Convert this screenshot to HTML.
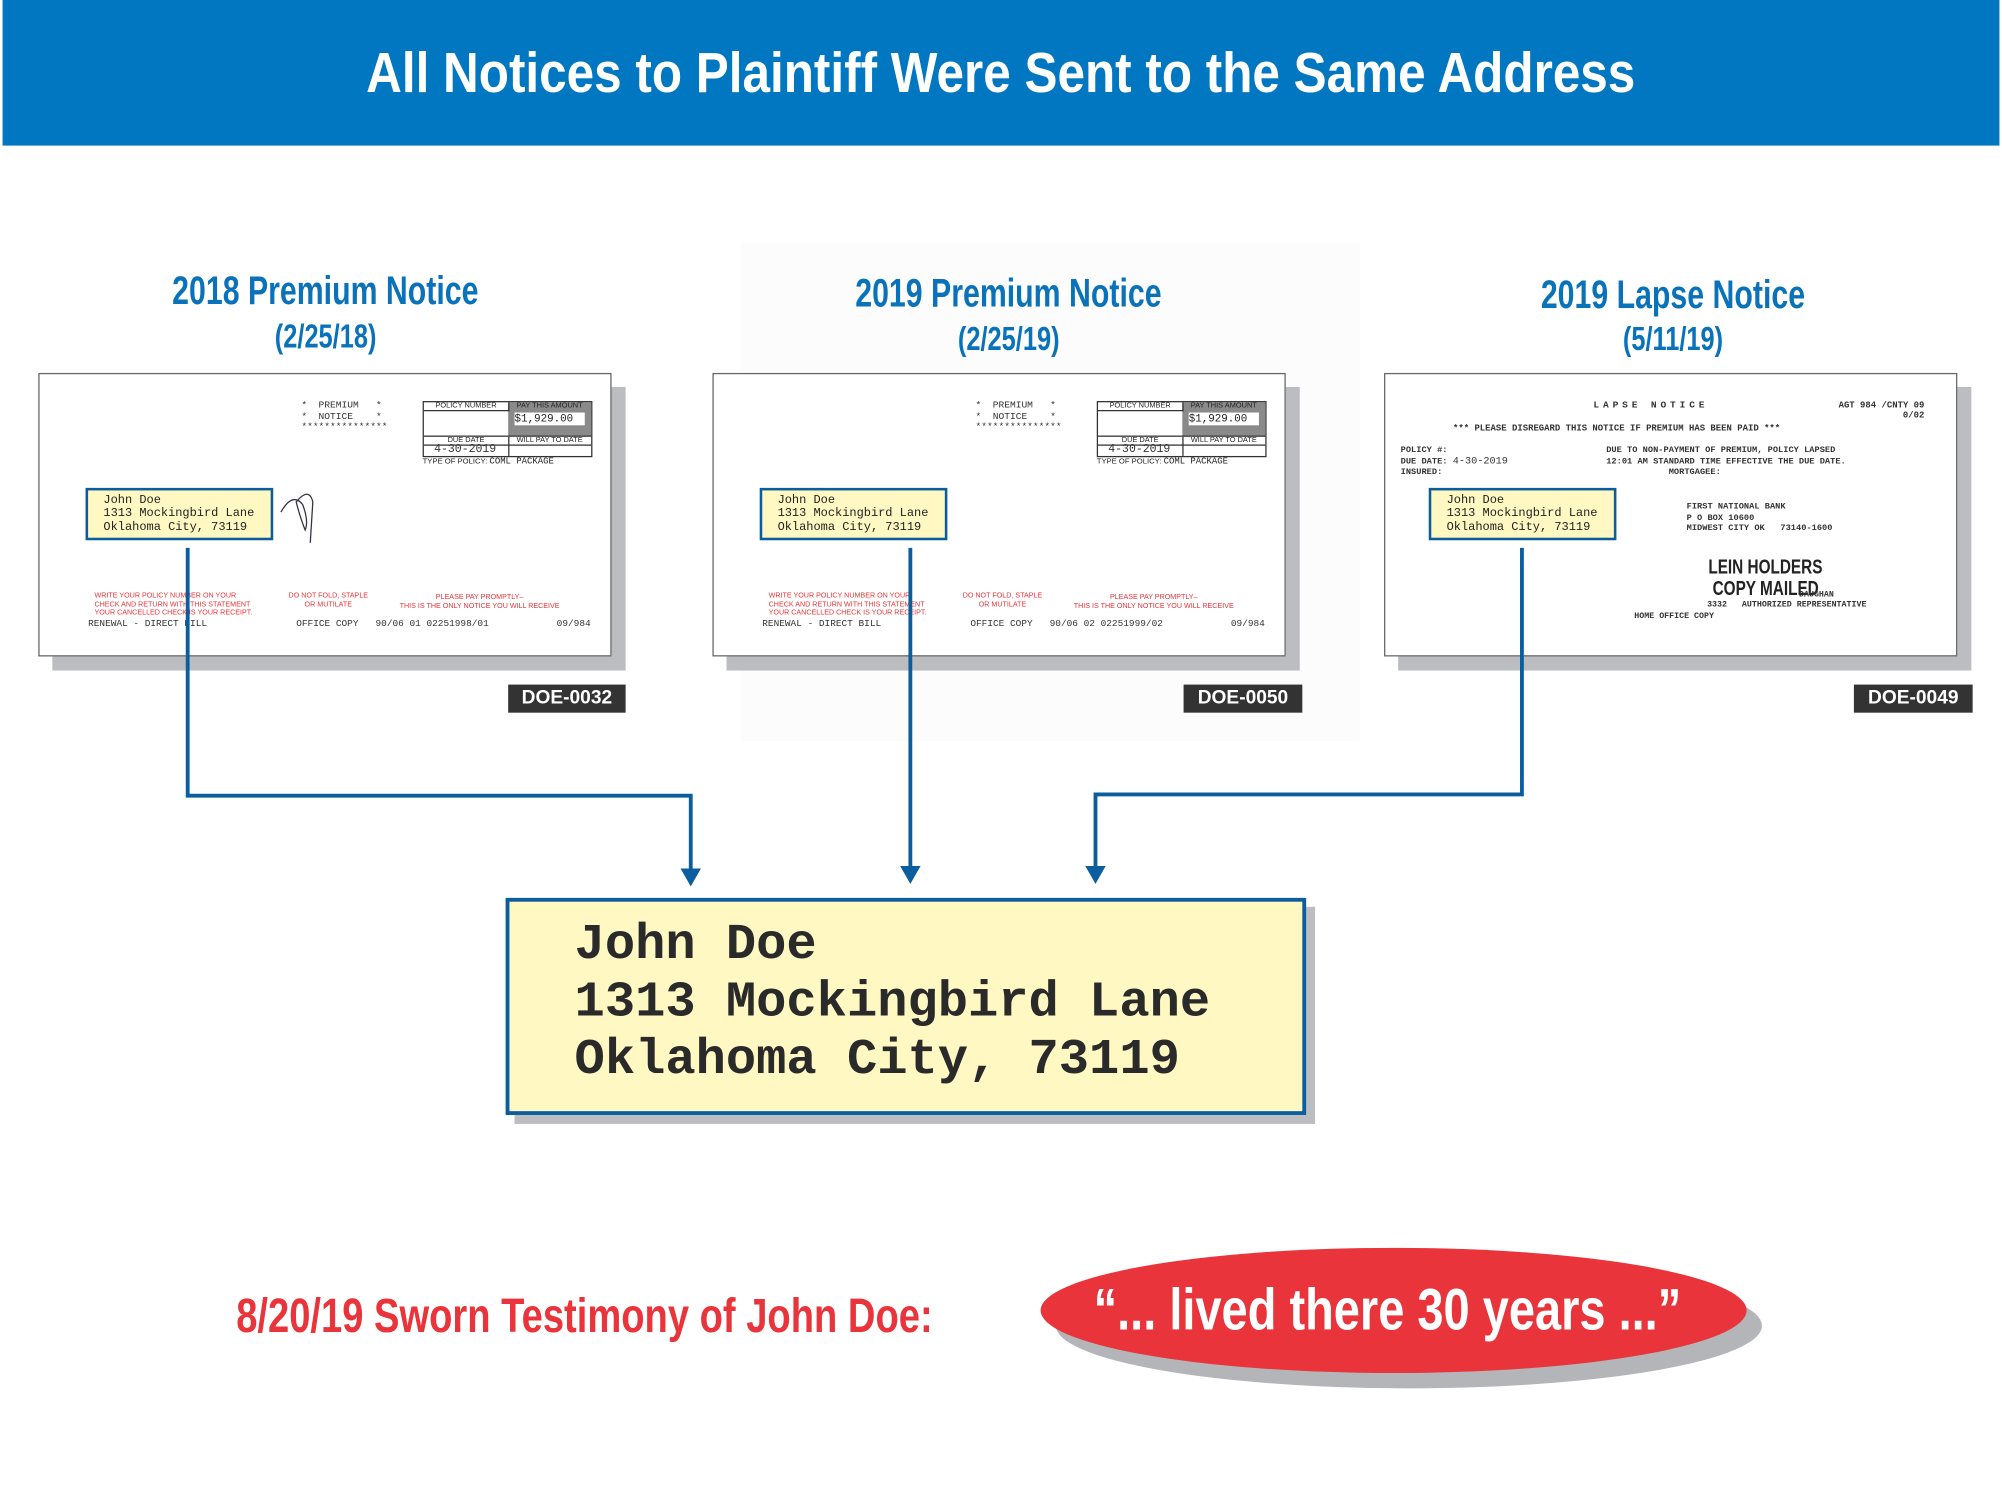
<!DOCTYPE html>
<html><head><meta charset="utf-8">
<style>
html,body{margin:0;padding:0;background:#fff;}
body{width:2002px;height:1502px;overflow:hidden;position:relative;}
#w{position:absolute;left:0;top:0;width:1568px;height:1176px;transform:scale(1.27679,1.2772);transform-origin:0 0;font-family:"Liberation Sans",sans-serif;}
.a{position:absolute;}
.cond{display:inline-block;white-space:nowrap;font-weight:bold;}
.ttl{position:absolute;width:400px;text-align:center;color:#0a72b9;font-weight:bold;}
.ttl .cond{transform:scaleX(0.765);}
.doc{position:absolute;width:449px;height:222px;}
.doc .sh{position:absolute;left:11px;top:11px;width:449px;height:222px;background:#bcbdc0;}
.doc .pg{position:absolute;left:0;top:0;width:447px;height:220px;background:#fff;border:1px solid #666;overflow:hidden;}
.m{font-family:"Liberation Mono",monospace;white-space:nowrap;position:absolute;color:#333;}
.r{position:absolute;color:#e8343a;font-size:5.6px;line-height:6.5px;white-space:nowrap;}
.addr{position:absolute;width:143px;height:37px;background:#fff8c2;border:2px solid #0b5d9e;box-sizing:content-box;}
.addr div{font-family:"Liberation Mono",monospace;font-size:9.4px;line-height:10.4px;color:#222;margin:3px 0 0 12px;white-space:nowrap;}
.doe{position:absolute;height:22px;background:#333;color:#fff;font-weight:bold;font-size:15px;line-height:22px;text-align:center;}
.tbl{position:absolute;left:300px;top:21px;width:131px;height:42px;border:1.5px solid #333;font-size:5.8px;color:#222;}
</style></head><body><div id="w">
<div class="a" style="left:2px;top:0;width:1564px;height:114px;background:#0077c0;"></div>
<div class="a" style="left:2px;top:30px;width:1564px;text-align:center;color:#fff;font-size:44px;line-height:56px;"><span class="cond" style="transform:scaleX(0.88);">All Notices to Plaintiff Were Sent to the Same Address</span></div>

<div class="a" style="left:580px;top:190px;width:485px;height:390px;background:#fcfcfc;"></div>

<div class="ttl" style="left:55px;top:210px;font-size:31px;line-height:36px;"><span class="cond">2018 Premium Notice</span></div>
<div class="ttl" style="left:55px;top:247px;font-size:26px;line-height:32px;"><span class="cond">(2/25/18)</span></div>
<div class="ttl" style="left:590px;top:212px;font-size:31px;line-height:36px;"><span class="cond">2019 Premium Notice</span></div>
<div class="ttl" style="left:590px;top:249px;font-size:26px;line-height:32px;"><span class="cond">(2/25/19)</span></div>
<div class="ttl" style="left:1110px;top:213px;font-size:31px;line-height:36px;"><span class="cond">2019 Lapse Notice</span></div>
<div class="ttl" style="left:1110px;top:249px;font-size:26px;line-height:32px;"><span class="cond">(5/11/19)</span></div>

<!-- doc 1 -->
<div class="doc" style="left:30px;top:292px;"><div class="sh"></div><div class="pg">
<div class="m" style="left:205px;top:21px;font-size:7.5px;line-height:8.5px;">*&nbsp;&nbsp;PREMIUM&nbsp;&nbsp;&nbsp;*<br>*&nbsp;&nbsp;NOTICE&nbsp;&nbsp;&nbsp;&nbsp;*<br>***************</div>
<div class="tbl"><div class="a" style="left:66px;top:0;width:65px;height:26px;background:#8a8a8a;"></div>
<div class="a" style="left:0;top:0;width:66px;text-align:center;border-bottom:1px solid #333;border-right:1px solid #333;">POLICY NUMBER</div>
<div class="a" style="left:66px;top:0;width:65px;text-align:center;">PAY THIS AMOUNT</div>
<div class="a" style="left:71px;top:8px;width:55px;height:10px;background:#fff;font-family:'Liberation Mono',monospace;font-size:8.5px;line-height:10px;">$1,929.00</div>
<div class="a" style="left:0;top:26px;width:131px;border-top:1px solid #333;"></div>
<div class="a" style="left:0;top:27px;width:66px;text-align:center;border-right:1px solid #333;height:15px;">DUE DATE</div>
<div class="a" style="left:66px;top:27px;width:65px;text-align:center;">WILL PAY TO DATE</div>
<div class="a" style="left:0;top:33px;width:131px;border-top:1px solid #333;"></div>
<div class="m" style="left:8px;top:33px;font-size:9px;line-height:9px;">4-30-2019</div></div>
<div class="a" style="left:300px;top:65px;font-size:6px;color:#222;white-space:nowrap;">TYPE OF POLICY: <span style="font-family:'Liberation Mono',monospace;font-size:7px;">COML PACKAGE</span></div>
<div class="addr" style="left:36px;top:89px;"><div>John Doe<br>1313 Mockingbird Lane<br>Oklahoma City, 73119</div></div>
<svg class="a" style="left:186px;top:90px" width="40" height="45"><path d="M3 18 Q12 2 20 12 Q25 25 22 32 Q18 22 15 10 Q25 -2 28 10 L26 42" stroke="#334" fill="none" stroke-width="1"/></svg>
<div class="r" style="left:43px;top:171px;">WRITE YOUR POLICY NUMBER ON YOUR<br>CHECK AND RETURN WITH THIS STATEMENT<br>YOUR CANCELLED CHECK IS YOUR RECEIPT.</div>
<div class="r" style="left:195px;top:171px;text-align:center;">DO NOT FOLD, STAPLE<br>OR MUTILATE</div>
<div class="r" style="left:282px;top:172px;text-align:center;">PLEASE PAY PROMPTLY–<br>THIS IS THE ONLY NOTICE YOU WILL RECEIVE</div>
<div class="m" style="left:38px;top:192px;font-size:7.4px;">RENEWAL - DIRECT BILL</div>
<div class="m" style="left:201px;top:192px;font-size:7.4px;">OFFICE COPY&nbsp;&nbsp;&nbsp;90/06 01 02251998/01</div>
<div class="m" style="left:405px;top:192px;font-size:7.4px;">09/984</div>
</div></div>

<!-- doc 2 -->
<div class="doc" style="left:558px;top:292px;"><div class="sh"></div><div class="pg">
<div class="m" style="left:205px;top:21px;font-size:7.5px;line-height:8.5px;">*&nbsp;&nbsp;PREMIUM&nbsp;&nbsp;&nbsp;*<br>*&nbsp;&nbsp;NOTICE&nbsp;&nbsp;&nbsp;&nbsp;*<br>***************</div>
<div class="tbl"><div class="a" style="left:66px;top:0;width:65px;height:26px;background:#8a8a8a;"></div>
<div class="a" style="left:0;top:0;width:66px;text-align:center;border-bottom:1px solid #333;border-right:1px solid #333;">POLICY NUMBER</div>
<div class="a" style="left:66px;top:0;width:65px;text-align:center;">PAY THIS AMOUNT</div>
<div class="a" style="left:71px;top:8px;width:55px;height:10px;background:#fff;font-family:'Liberation Mono',monospace;font-size:8.5px;line-height:10px;">$1,929.00</div>
<div class="a" style="left:0;top:26px;width:131px;border-top:1px solid #333;"></div>
<div class="a" style="left:0;top:27px;width:66px;text-align:center;border-right:1px solid #333;height:15px;">DUE DATE</div>
<div class="a" style="left:66px;top:27px;width:65px;text-align:center;">WILL PAY TO DATE</div>
<div class="a" style="left:0;top:33px;width:131px;border-top:1px solid #333;"></div>
<div class="m" style="left:8px;top:33px;font-size:9px;line-height:9px;">4-30-2019</div></div>
<div class="a" style="left:300px;top:65px;font-size:6px;color:#222;white-space:nowrap;">TYPE OF POLICY: <span style="font-family:'Liberation Mono',monospace;font-size:7px;">COML PACKAGE</span></div>
<div class="addr" style="left:36px;top:89px;"><div>John Doe<br>1313 Mockingbird Lane<br>Oklahoma City, 73119</div></div>
<div class="r" style="left:43px;top:171px;">WRITE YOUR POLICY NUMBER ON YOUR<br>CHECK AND RETURN WITH THIS STATEMENT<br>YOUR CANCELLED CHECK IS YOUR RECEIPT.</div>
<div class="r" style="left:195px;top:171px;text-align:center;">DO NOT FOLD, STAPLE<br>OR MUTILATE</div>
<div class="r" style="left:282px;top:172px;text-align:center;">PLEASE PAY PROMPTLY–<br>THIS IS THE ONLY NOTICE YOU WILL RECEIVE</div>
<div class="m" style="left:38px;top:192px;font-size:7.4px;">RENEWAL - DIRECT BILL</div>
<div class="m" style="left:201px;top:192px;font-size:7.4px;">OFFICE COPY&nbsp;&nbsp;&nbsp;90/06 02 02251999/02</div>
<div class="m" style="left:405px;top:192px;font-size:7.4px;">09/984</div>
</div></div>

<!-- doc 3 -->
<div class="doc" style="left:1084px;top:292px;"><div class="sh"></div><div class="pg">
<div class="m" style="left:163px;top:21px;font-size:7.5px;font-weight:bold;letter-spacing:3px;">LAPSE NOTICE</div>
<div class="m" style="left:355px;top:21px;font-size:7px;font-weight:bold;text-align:right;line-height:8px;">AGT 984 /CNTY 09<br>0/02</div>
<div class="m" style="left:53px;top:39px;font-size:7px;font-weight:bold;">*** PLEASE DISREGARD THIS NOTICE IF PREMIUM HAS BEEN PAID ***</div>
<div class="m" style="left:12px;top:56px;font-size:6.8px;font-weight:bold;line-height:8.5px;">POLICY #:<br>DUE DATE: <span style="font-weight:normal;font-size:8px;">4-30-2019</span><br>INSURED:</div>
<div class="m" style="left:173px;top:56px;font-size:6.8px;font-weight:bold;line-height:8.5px;">DUE TO NON-PAYMENT OF PREMIUM, POLICY LAPSED<br>12:01 AM STANDARD TIME EFFECTIVE THE DUE DATE.<br>&nbsp;&nbsp;&nbsp;&nbsp;&nbsp;&nbsp;&nbsp;&nbsp;&nbsp;&nbsp;&nbsp;&nbsp;MORTGAGEE:</div>
<div class="addr" style="left:34px;top:89px;"><div>John Doe<br>1313 Mockingbird Lane<br>Oklahoma City, 73119</div></div>
<div class="m" style="left:236px;top:100px;font-size:6.8px;font-weight:bold;line-height:8.5px;">FIRST NATIONAL BANK<br>P O BOX 10600<br>MIDWEST CITY OK&nbsp;&nbsp;&nbsp;73140-1600</div>
<div class="a" style="left:253px;top:143px;font-size:16px;font-weight:bold;color:#222;line-height:17px;transform:scaleX(0.75);transform-origin:0 0;white-space:nowrap;">LEIN HOLDERS<br>&nbsp;COPY MAILED</div>
<div class="m" style="left:324px;top:169px;font-size:6.5px;font-weight:bold;">DAUGHAN</div>
<div class="m" style="left:252px;top:177px;font-size:6.5px;font-weight:bold;">3332&nbsp;&nbsp;&nbsp;AUTHORIZED REPRESENTATIVE</div>
<div class="m" style="left:195px;top:186px;font-size:6.5px;font-weight:bold;">HOME OFFICE COPY</div>
</div></div>

<div class="doe" style="left:398px;top:536px;width:92px;">DOE-0032</div>
<div class="doe" style="left:927px;top:536px;width:93px;">DOE-0050</div>
<div class="doe" style="left:1452px;top:536px;width:93px;">DOE-0049</div>

<svg class="a" style="left:0;top:0" width="1568" height="1176">
<g stroke="#0b5d9e" stroke-width="3" fill="none">
<polyline points="147,429 147,623 541,623 541,682"/>
<line x1="713" y1="429" x2="713" y2="680"/>
<polyline points="1192,429 1192,622 858,622 858,680"/>
</g>
<g fill="#0b5d9e">
<polygon points="533,680 549,680 541,694"/>
<polygon points="705,678 721,678 713,692"/>
<polygon points="850,678 866,678 858,692"/>
</g>
</svg>

<div class="a" style="left:403px;top:710px;width:627px;height:170px;background:#bcbdc0;"></div>
<div class="a" style="left:396px;top:703px;width:621px;height:164px;background:#fff8c2;border:3px solid #0b5d9e;"></div>
<div class="a" style="left:450px;top:717px;font-family:'Liberation Mono',monospace;font-weight:bold;font-size:39.5px;line-height:45px;color:#2a2a2a;white-space:nowrap;">John Doe<br>1313 Mockingbird Lane<br>Oklahoma City, 73119</div>

<div class="a" style="left:185px;top:1008px;color:#e8343a;font-size:38px;line-height:46px;"><span class="cond" style="transform:scaleX(0.786);transform-origin:0 0;">8/20/19 Sworn Testimony of John Doe:</span></div>

<div class="a" style="left:827px;top:989px;width:553px;height:98px;border-radius:50%;background:#b4b5b8;"></div>
<div class="a" style="left:815px;top:977px;width:553px;height:98px;border-radius:50%;background:#e8343a;"></div>
<div class="a" style="left:799px;top:998px;width:553px;text-align:center;color:#fff;font-size:46px;line-height:54px;"><span class="cond" style="transform:scaleX(0.8);">“... lived there 30 years ...”</span></div>
</div></body></html>
